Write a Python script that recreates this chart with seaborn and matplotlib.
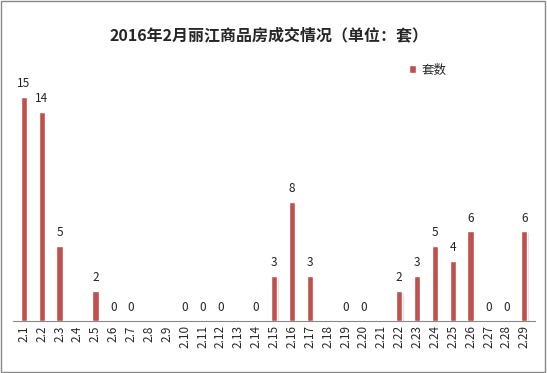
import numpy as np
import pandas as pd
import matplotlib
matplotlib.use("Agg")
import matplotlib.pyplot as plt
import seaborn as sns

# daily sales counts, None = no data that day
days = ["2.%d" % i for i in range(1, 30)]
counts = [15, 14, 5, None, 2, 0, 0, None, None, 0,
          0, 0, None, 0, 3, 8, 3, None, 0, 0,
          None, 2, 3, 5, 4, 6, 0, 0, 6]
title = "2016年2月丽江商品房成交情况（单位：套）"
series_name = "套数"

sns.set_style("white")
plt.rcParams['font.family'] = ['Noto Sans CJK SC', 'DejaVu Sans']

df = pd.DataFrame({"day": days, series_name: [np.nan if c is None else c for c in counts]})

fig = plt.figure(figsize=(5.47, 3.73), dpi=100)
ax = fig.add_axes([0.024, 0.139, 0.954, 0.673])

bar_color = "#C0504D"
sns.barplot(data=df, x="day", y=series_name, color=bar_color, width=0.36,
            saturation=1, ax=ax, label=series_name, zorder=3)

bars = [p for p in ax.containers[0] if p is not None]
# light shadow behind bars like the excel chart
for p in bars:
    sh = plt.Rectangle((p.get_x() + 0.07, 0), p.get_width(), max(p.get_height() - 0.1, 0),
                       color="#e8d8d8", zorder=2, lw=0)
    ax.add_patch(sh)
    ax.annotate("%d" % round(p.get_height()), (p.get_x() + p.get_width() / 2, p.get_height()),
                xytext=(0, 5), textcoords="offset points", ha="center", va="bottom",
                fontsize=8.5, color="#222222")

ax.set_ylim(0, 16.8)
ax.set_xlim(-0.6, len(days) - 0.4)
ax.set_xlabel("")
ax.set_ylabel("")
ax.set_yticks([])
ax.tick_params(axis="x", labelsize=8.5, rotation=90, length=0, pad=3)
for s in ["top", "right", "left"]:
    ax.spines[s].set_visible(False)
ax.spines["bottom"].set_color("#888888")
ax.spines["bottom"].set_linewidth(0.8)

fig.text(0.492, 0.906, title, ha="center", va="center", fontsize=11.5, fontweight="bold")

leg = ax.legend(loc="center left", bbox_to_anchor=(0.737, 1.0), frameon=False,
                fontsize=9, handlelength=0.6, handleheight=0.6, handletextpad=0.4)

# outer frame
fig.patches.append(plt.Rectangle((0.002, 0.003), 0.995, 0.993, transform=fig.transFigure,
                                 fill=False, edgecolor="#888888", lw=1))

fig.savefig("out.png", dpi=100)
